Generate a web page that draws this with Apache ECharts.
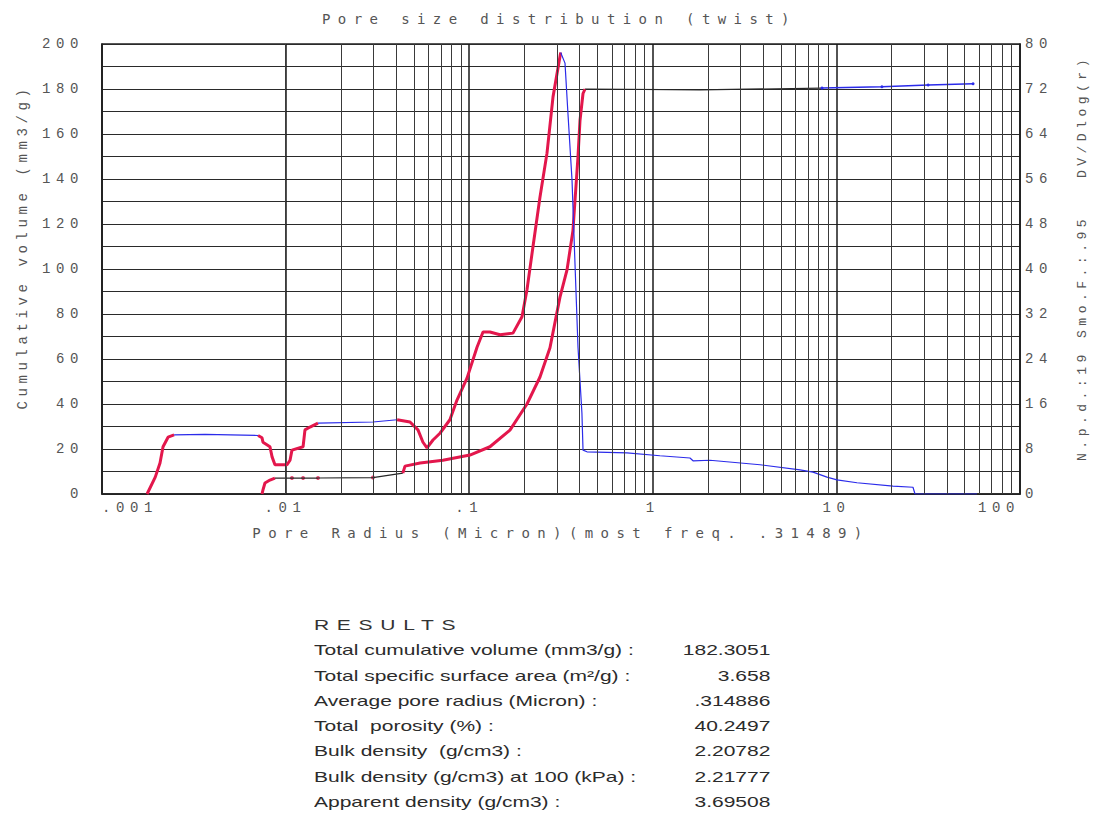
<!DOCTYPE html>
<html><head><meta charset="utf-8">
<script src="https://cdn.jsdelivr.net/npm/echarts@6/dist/echarts.min.js"></script>
<style>
html,body{margin:0;padding:0;background:#fff;}
#chart{position:absolute;left:0;top:0;width:1097px;height:813px;}
#chart svg text{white-space:pre;}
#chart svg text[style*="DejaVu Sans Mono"],#chart svg text[font-family*="DejaVu Sans Mono"]{letter-spacing:7.4px;}
#chart svg text[style*="Liberation Mono"],#chart svg text[font-family*="Liberation Mono"]{letter-spacing:5.6px;}
#chart svg text[style*="nameL"],#chart svg text[font-family*="nameL"]{letter-spacing:4.6px;}
#chart svg text[style*="nameR"],#chart svg text[font-family*="nameR"]{letter-spacing:4.5px;}
#results{position:absolute;left:314px;top:612px;font-family:"Liberation Sans",Arial,sans-serif;font-size:15px;color:#2b2b2b;transform:scaleX(1.4);transform-origin:0 0;line-height:25.3px;white-space:pre;}
#results .h{letter-spacing:5.5px;color:#333;}
#results .row{display:flex;justify-content:space-between;width:326px;}
</style></head>
<body>
<div id="chart"></div>
<div id="results"></div>
<script>
// ---- data ----
const titleText = 'Pore size distribution (twist)';
const xName = 'Pore Radius (Micron)(most freq. .31489)';
const yLeftName = 'Cumulative volume (mm3/g)';
const yRightName = 'N.p.d.:19 Smo.F.:.95   DV/Dlog(r)';

// DV/Dlog(r) distribution (right axis)
const distRadius = [0.00176,0.00195,0.00207,0.00215,0.00229,0.00247,0.00364,0.00708,0.00744,0.00753,
  0.00822,0.00844,0.00875,0.01018,0.01057,0.01083,0.01245,0.01275,0.01358,0.01501,
  0.0299,0.0405,0.0476,0.0526,0.0560,0.0589,0.0635,0.0693,0.0785,0.0858,
  0.0973,0.1103,0.1189,0.1297,0.1472,0.1732,0.1939,0.2064,0.2226,0.2430,
  0.2653,0.2861,0.3149,0.3325,0.3451,0.3631,0.3767,0.3914,0.4111,0.4168,
  0.4381,0.7237,1.094,1.594,1.656,2.049,3.837,6.336,7.457,8.888,
  10.07,12.95,20.34,26.13,26.8,58.3];
const distValue = [0,3.0,5.5,8.4,10.1,10.5,10.6,10.4,10.0,9.2,
  8.4,6.6,5.2,5.2,6.0,7.8,8.4,11.4,11.9,12.6,
  12.8,13.2,12.8,11.4,9.2,8.2,9.6,10.8,13.2,16.7,
  20.6,26.1,28.8,28.8,28.3,28.6,31.5,36.3,44.0,52.8,
  60.6,70.6,78.5,76.6,67.6,55.8,41.1,26.1,14.4,7.8,
  7.5,7.3,6.8,6.4,5.9,6.0,5.2,4.3,3.9,3.0,
  2.5,2.0,1.4,1.2,0,0];

// Cumulative volume (left axis, mm3/g)
const cumRadius = [0.001,0.00744,0.00753,0.00772,0.00822,0.00875,0.01083,0.01245,0.01501,0.0299,
  0.0435,0.0447,0.0540,0.0719,0.1009,0.1297,0.1667,0.2064,0.2430,0.2754,
  0.3124,0.3410,0.3673,0.3914,0.4013,0.4168,0.4276,1.807,8.35,17.7,
  31.6,55.5];
const cumValue = [0,0,1.8,4.9,6.2,7.1,7.1,7.1,7.1,7.3,
  9.3,12.4,13.8,15.0,17.3,21.0,28.4,40.0,52.0,65.0,
  87.6,99.6,117.0,150.0,166.0,178.0,180.0,179.6,180.4,181.0,
  181.8,182.3];

const resultsTitle = 'RESULTS';
const resultLabels = ['Total cumulative volume (mm3/g) :','Total specific surface area (m\u00b2/g) :','Average pore radius (Micron) :',
  'Total  porosity (%) :','Bulk density  (g/cm3) :','Bulk density (g/cm3) at 100 (kPa) :','Apparent density (g/cm3) :'];
const resultValues = ['182.3051','3.658','.314886','40.2497','2.20782','2.21777','3.69508'];

// ---- styles ----
const RED = '#e3174c', BLUE = '#2b2bea', BLACK = '#262626';
const GREY = '#555';

function seg(xs, ys, i0, i1) { const o = []; for (let i = i0; i <= i1; i++) o.push([xs[i], ys[i]]); return o; }
function line(data, yi, color, width, extra) {
  return Object.assign({type:'line', yAxisIndex: yi, data, showSymbol:false, symbol:'none', smooth:false,
    lineStyle:{color, width}, itemStyle:{color}, silent:true, animation:false}, extra || {});
}

const minorX = [];
for (let e = -3; e < 2; e++) for (let m = 2; m <= 9; m++) minorX.push(+(m * Math.pow(10, e)).toPrecision(3));

const series = [
  {type:'line', data:[[0.001,0]], showSymbol:false, symbol:'none', lineStyle:{opacity:0}, silent:true, animation:false,
   markLine:{silent:true, symbol:['none','none'], label:{show:false}, animation:false,
     lineStyle:{color:'#3a3a3a', width:1, type:'solid'}, data: minorX.map(v => ({xAxis: v}))}},
  // cumulative
  line(seg(cumRadius,cumValue,0,1),0,BLACK,1.2),
  line(seg(cumRadius,cumValue,1,5),0,RED,3),
  line(seg(cumRadius,cumValue,5,10),0,BLACK,1.2),
  {type:'scatter', yAxisIndex:0, data: seg(cumRadius,cumValue,6,9), symbolSize:4, itemStyle:{color:RED}, silent:true, animation:false},
  line(seg(cumRadius,cumValue,10,26),0,RED,3),
  line(seg(cumRadius,cumValue,26,28),0,BLACK,1.2),
  line(seg(cumRadius,cumValue,28,31),0,BLUE,1.5,{showSymbol:true, symbol:'circle', symbolSize:3}),
  // distribution
  line(seg(distRadius,distValue,0,5),1,RED,3),
  line(seg(distRadius,distValue,5,7),1,BLUE,1.2),
  line(seg(distRadius,distValue,7,19),1,RED,3),
  line(seg(distRadius,distValue,19,21),1,BLUE,1.2),
  line(seg(distRadius,distValue,21,42),1,RED,3),
  line(seg(distRadius,distValue,42,65),1,BLUE,1.2)
];

const chart = echarts.init(document.getElementById('chart'), null, {renderer:'svg'});
chart.setOption({
  animation:false,
  backgroundColor:'#fff',
  title:{text:titleText, left:322, top:12, padding:0,
    textStyle:{fontFamily:'DejaVu Sans Mono', fontWeight:'normal', fontSize:14, color:GREY}},
  grid:{left:102, right:77, top:44, bottom:319, show:true, borderColor:'#222', borderWidth:1.5, containLabel:false},
  xAxis:{type:'log', logBase:10, min:0.001, max:100,
    axisLine:{show:true, lineStyle:{color:'#222', width:1.5}}, axisTick:{show:false},
    axisLabel:{color:GREY, fontFamily:'Liberation Mono', fontSize:14, margin:7, alignMinLabel:'left', alignMaxLabel:'right',
      formatter: v => { const e = Math.log10(v); const r = Math.round(e); if (Math.abs(e - r) > 1e-6) return '';
        return r < 0 ? '.' + '0'.repeat(-r - 1) + '1' : String(Math.pow(10, r)); }},
    splitLine:{show:true, lineStyle:{color:'#1a1a1a', width:1.5}},
    name:xName, nameLocation:'middle', nameGap:32,
    nameTextStyle:{fontFamily:'DejaVu Sans Mono', fontSize:14, color:GREY}},
  yAxis:[
    {type:'value', min:0, max:200, interval:20, position:'left',
     axisLine:{show:true, lineStyle:{color:'#222', width:1.5}}, axisTick:{show:false},
     axisLabel:{color:GREY, fontFamily:'Liberation Mono', fontSize:14, margin:18},
     splitLine:{show:true, lineStyle:{color:'#2a2a2a', width:1.2}},
     minorTick:{show:false, splitNumber:2}, minorSplitLine:{show:true, lineStyle:{color:'#2a2a2a', width:1.2}},
     name:yLeftName, nameLocation:'middle', nameRotate:90, nameGap:72,
     nameTextStyle:{fontFamily:'Liberation Mono, nameL', fontSize:14, color:GREY, padding:[0,0,0,44]}},
    {type:'value', min:0, max:80, interval:8, position:'right',
     axisLine:{show:true, lineStyle:{color:'#222', width:1.5}}, axisTick:{show:false},
     axisLabel:{color:GREY, fontFamily:'Liberation Mono', fontSize:14, margin:5},
     splitLine:{show:false},
     name:yRightName, nameLocation:'middle', nameRotate:90, nameGap:56,
     nameTextStyle:{fontFamily:'Liberation Mono, nameR', fontSize:13, color:GREY, padding:[0,0,0,22]}}
  ],
  series
});

// results block
const res = document.getElementById('results');
let html = '<div class="h">' + resultsTitle + '</div>';
for (let i = 0; i < resultLabels.length; i++) {
  html += '<div class="row"><span>' + resultLabels[i] + '</span><span>' + resultValues[i] + '</span></div>';
}
res.innerHTML = html;
</script>
</body></html>
